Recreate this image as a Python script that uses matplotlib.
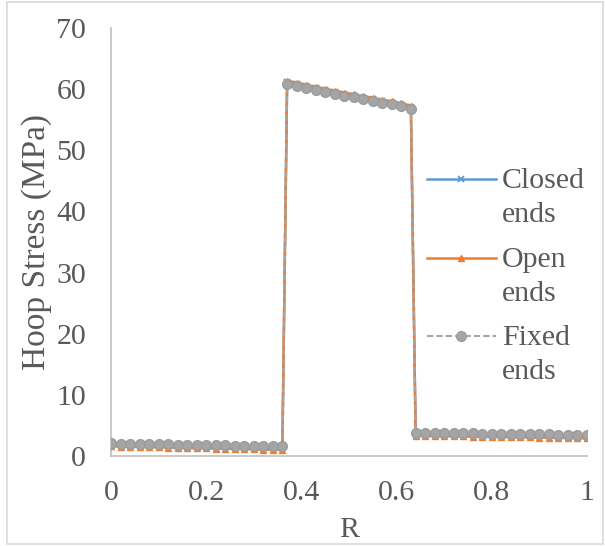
import matplotlib
matplotlib.use("Agg")
import matplotlib.pyplot as plt
from matplotlib.legend_handler import HandlerLine2D
from matplotlib.transforms import Affine2D
from matplotlib.patches import Rectangle

# ---- data ----
r_inner = [0.00, 0.02, 0.04, 0.06, 0.08, 0.10, 0.12, 0.14, 0.16, 0.18,
           0.20, 0.22, 0.24, 0.26, 0.28, 0.30, 0.32, 0.34, 0.36]
r_middle = [0.37, 0.39, 0.41, 0.43, 0.45, 0.47, 0.49, 0.51, 0.53, 0.55,
            0.57, 0.59, 0.61, 0.63]
r_outer = [0.64, 0.66, 0.68, 0.70, 0.72, 0.74, 0.76, 0.78, 0.80, 0.82,
           0.84, 0.86, 0.88, 0.90, 0.92, 0.94, 0.96, 0.98, 1.00]
R = r_inner + r_middle + r_outer

closed_inner = [1.82, 1.79, 1.76, 1.73, 1.70, 1.67, 1.64, 1.61, 1.58, 1.55,
                1.52, 1.49, 1.46, 1.43, 1.40, 1.37, 1.34, 1.31, 1.28]
closed_middle = [61.15, 60.80, 60.46, 60.13, 59.81, 59.50, 59.20, 58.90,
                 58.61, 58.32, 58.03, 57.74, 57.45, 57.05]
closed_outer = [3.56, 3.54, 3.52, 3.50, 3.48, 3.46, 3.44, 3.42, 3.40, 3.38,
                3.36, 3.34, 3.32, 3.30, 3.28, 3.26, 3.23, 3.20, 3.17]
closed_ends = closed_inner + closed_middle + closed_outer

open_inner = [1.58, 1.55, 1.52, 1.48, 1.45, 1.42, 1.39, 1.35, 1.32, 1.29,
              1.26, 1.22, 1.19, 1.16, 1.13, 1.09, 1.06, 1.03, 1.00]
open_middle = [61.40, 61.05, 60.71, 60.38, 60.06, 59.75, 59.45, 59.15,
               58.86, 58.57, 58.28, 57.99, 57.70, 57.30]
open_outer = [3.30, 3.28, 3.26, 3.23, 3.21, 3.19, 3.17, 3.15, 3.13, 3.10,
              3.08, 3.06, 3.04, 3.02, 3.00, 2.97, 2.95, 2.92, 2.89]
open_ends = open_inner + open_middle + open_outer

fixed_inner = [2.07, 2.04, 2.01, 1.98, 1.95, 1.92, 1.89, 1.87, 1.84, 1.81,
               1.78, 1.75, 1.73, 1.70, 1.67, 1.65, 1.62, 1.59, 1.56]
fixed_middle = [60.90, 60.55, 60.21, 59.88, 59.56, 59.25, 58.95, 58.65,
                58.36, 58.07, 57.78, 57.49, 57.20, 56.80]
fixed_outer = [3.81, 3.79, 3.77, 3.75, 3.73, 3.71, 3.69, 3.67, 3.65, 3.63,
               3.61, 3.59, 3.57, 3.55, 3.53, 3.51, 3.49, 3.46, 3.43]
fixed_ends = fixed_inner + fixed_middle + fixed_outer

series_labels = ["Closed\nends", "Open\nends", "Fixed\nends"]
x_ticks = [0, 0.2, 0.4, 0.6, 0.8, 1]
x_tick_labels = ["0", "0.2", "0.4", "0.6", "0.8", "1"]
y_ticks = [0, 10, 20, 30, 40, 50, 60, 70]

# ---- style ----
plt.rcParams['font.family'] = ['Liberation Serif', 'DejaVu Serif']
TXT = '#595959'
FS = 21.5
FS_TITLE = 24

fig = plt.figure(figsize=(6.05, 5.46), dpi=100)
ax = fig.add_axes([111/605, 1-456/546, (587-111)/605, (456-28)/546])

l1, = ax.plot(R, closed_ends, color='#5B9BD5', lw=1.8, marker='x',
              ms=5, mew=1.3, zorder=2)
l2, = ax.plot(R, open_ends, color='#ED7D31', lw=1.8, marker='^',
              ms=5, zorder=3)
l3, = ax.plot(R, fixed_ends, color='#A5A5A5', lw=1.5, ls=(0, (3, 1.5)),
              marker='o', ms=7, mfc='#A5A5A5', mec='#9C9C9C', mew=1.0,
              zorder=4)

ax.set_xlim(0, 1)
ax.set_ylim(0, 70)
ax.set_xticks(x_ticks)
ax.set_xticklabels(x_tick_labels)
ax.set_yticks(y_ticks)
ax.tick_params(axis='both', length=0, labelsize=FS, labelcolor=TXT)
ax.tick_params(axis='x', pad=17)
ax.tick_params(axis='y', pad=18)
for s in ['top', 'right']:
    ax.spines[s].set_visible(False)
for s in ['left', 'bottom']:
    ax.spines[s].set_color('#BFBFBF')
    ax.spines[s].set_linewidth(1.2)
ax.set_xlabel('R', fontsize=FS, color=TXT)
ax.set_ylabel('Hoop Stress (MPa)', fontsize=FS_TITLE, color=TXT)
ax.xaxis.set_label_coords(0.5, -0.143)
ax.yaxis.set_label_coords(-0.124, 0.5)


class TopLineHandler(HandlerLine2D):
    def create_artists(self, legend, orig_handle, xdescent, ydescent,
                       width, height, fontsize, trans):
        t = Affine2D().translate(0, 0.62 * fontsize) + trans
        return super().create_artists(legend, orig_handle, xdescent,
                                      ydescent, width, height, fontsize, t)


h = TopLineHandler()
leg = fig.legend([l1, l2, l3], series_labels, loc='upper left',
                 bbox_to_anchor=(427/605, 1-168/546), frameon=False,
                 fontsize=FS, labelcolor=TXT, handlelength=2.3,
                 handletextpad=0.2, labelspacing=0.62, borderpad=0,
                 borderaxespad=0, handler_map={l1: h, l2: h, l3: h})
for t in leg.get_texts():
    t.set_linespacing(1.4)

fig.patches.append(Rectangle((7/605, 2/546), 596/605, 542/546,
                             transform=fig.transFigure, fill=False,
                             edgecolor='#D9D9D9', lw=1.2))

fig.savefig('out.png', dpi=100, facecolor='white')
